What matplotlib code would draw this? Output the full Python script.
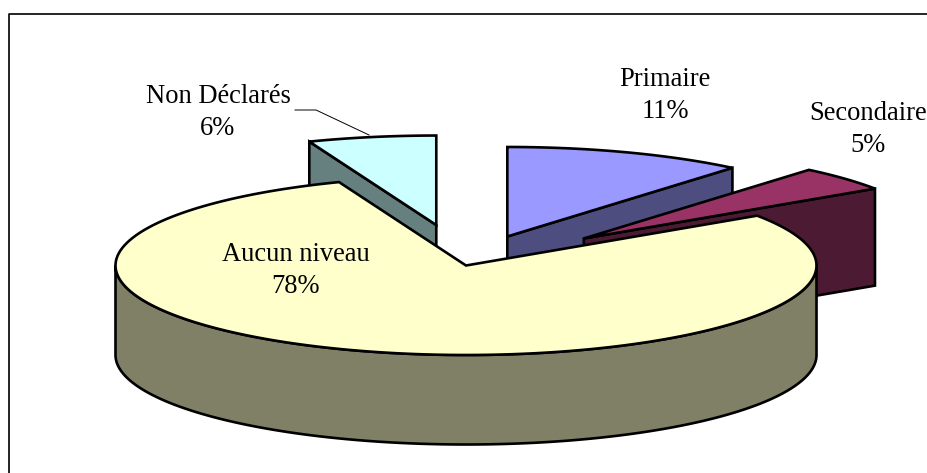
import numpy as np
import matplotlib
matplotlib.use('Agg')
import matplotlib.pyplot as plt
from matplotlib.patches import Polygon

plt.rcParams['font.family'] = ['Liberation Serif', 'DejaVu Sans']

labels = ['Primaire', 'Secondaire', 'Aucun niveau', 'Non Déclarés']
percents = ['11%', '5%', '78%', '6%']
shares = [11.1, 4.5, 78.5, 5.9]
explode = [0.345, 0.452, 0.0, 0.46]
tops = ['#9999FF', '#993366', '#FFFFCC', '#CCFFFF']
sides = ['#4D4D80', '#4D1A33', '#808066', '#668080']
label_pos = [(665, 95.5), (868, 129.5), (296, 270.5), (218, 112.5)]

# pie geometry, in pixels of the 927x473 image
cx, cy = 466, 265.5
rx, ry = 350.5, 89.5
depths = [90, 97, 89.5, 90]
lw = 1.9


def point(ox, oy, t):
    return ox + rx * np.cos(t), oy - ry * np.sin(t)


def arc(ox, oy, t0, t1):
    t = np.linspace(t0, t1, 200)
    return np.column_stack(point(ox, oy, t))


fig = plt.figure(figsize=(9.27, 4.73), dpi=100)
ax = fig.add_axes([0, 0, 1, 1])
ax.set_xlim(0, 927)
ax.set_ylim(473, 0)
ax.axis('off')

# frame runs off the right and bottom of the picture
ax.plot([9.5, 9.5, 927], [473, 14, 14], color='black', lw=1.2, zorder=1)

# slice angles, clockwise from the top
ends = 90 - np.cumsum(shares) * 3.6
starts = np.concatenate(([90], ends[:-1]))
slices = []
for i in range(len(shares)):
    t0, t1 = np.radians(starts[i]), np.radians(ends[i])
    mid = (t0 + t1) / 2
    ox = cx + rx * explode[i] * np.cos(mid)
    oy = cy - ry * explode[i] * np.sin(mid)
    slices.append((ox, oy, t0, t1))


def draw_top(i, z):
    ox, oy, t0, t1 = slices[i]
    pts = np.vstack(([[ox, oy]], arc(ox, oy, t0, t1)))
    ax.add_patch(Polygon(pts, closed=True, fc=tops[i], ec='black', lw=lw,
                         joinstyle='miter', zorder=z))


def draw_cut(i, t, z):
    ox, oy = slices[i][:2]
    px, py = point(ox, oy, t)
    d = depths[i]
    pts = [(ox, oy), (px, py), (px, py + d), (ox, oy + d)]
    ax.add_patch(Polygon(pts, closed=True, fc=sides[i], ec='black', lw=lw,
                         joinstyle='miter', zorder=z))


# back slices first, the big one goes over everything
draw_cut(3, slices[3][2], 2)
draw_top(3, 3)
draw_cut(0, slices[0][3], 4)
draw_top(0, 5)
draw_cut(1, slices[1][3], 6)
draw_top(1, 7)

ox, oy = slices[2][:2]
front = arc(ox, oy, -np.pi, 0)
wall = np.vstack((front, front[::-1] + [0, depths[2]]))
ax.add_patch(Polygon(wall, closed=True, fc=sides[2], ec='black', lw=lw, zorder=8))
draw_top(2, 9)

# leader line for the small slice
ax.plot([295, 316, 369], [110, 110, 135], color='black', lw=0.7, zorder=2)

for name, pct, (x, y) in zip(labels, percents, label_pos):
    ax.text(x, y, '%s\n%s' % (name, pct), ha='center', va='center',
            fontsize=19.1, color='black', linespacing=1.4, zorder=10)

fig.savefig('out.png', dpi=100)
